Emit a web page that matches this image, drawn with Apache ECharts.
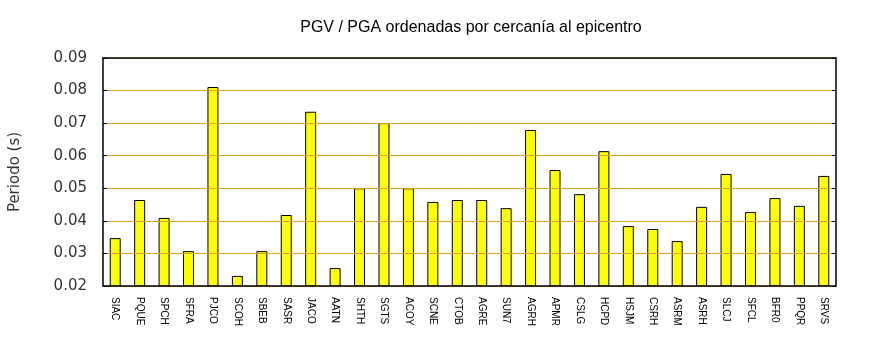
<!DOCTYPE html>
<html>
<head>
<meta charset="utf-8">
<script src="https://cdn.jsdelivr.net/npm/echarts@6/dist/echarts.min.js"></script>
<style>
  html, body { margin: 0; padding: 0; background: #fff; }
  #chart { width: 870px; height: 350px; }
</style>
</head>
<body>
<div id="chart"></div>
<script>
// Stations ordered by distance to the epicentre
const stations = ['SIAC','PQUE','SPCH','SFRA','PJCO','SCOH','SBEB','SASR','JACO','AATN',
  'SHTH','SGTS','ACOY','SCNE','CTOB','AGRE','SUN7','AGRH','APMR','CSLG',
  'HCPD','HSJM','CSRH','ASRM','ASRH','SLCJ','SFCL','BFR0','PPQR','SRVS'];

// PGV / PGA ratio (s)
const ratios = [0.0347, 0.0464, 0.0409, 0.0307, 0.0811, 0.0231, 0.0307, 0.0418, 0.0735, 0.0255,
  0.0500, 0.0700, 0.0500, 0.0458, 0.0464, 0.0464, 0.0439, 0.0679, 0.0556, 0.0482,
  0.0614, 0.0384, 0.0375, 0.0338, 0.0443, 0.0544, 0.0427, 0.0470, 0.0446, 0.0538];

const yMin = 0.02, yMax = 0.09, yStep = 0.01;

const chart = echarts.init(document.getElementById('chart'), null, { renderer: 'canvas' });

chart.setOption({
  animation: false,
  backgroundColor: '#ffffff',
  title: {
    text: 'PGV / PGA ordenadas por cercanía al epicentro',
    left: 466,
    textAlign: 'center',
    top: 15,
    textStyle: { fontFamily: 'Liberation Sans', fontSize: 16, fontWeight: 'normal', color: '#000' }
  },
  grid: { left: 101, right: 34, top: 58, height: 228, containLabel: false },
  xAxis: [
    {
      type: 'category',
      data: stations,
      z: 5,
      boundaryGap: true,
      axisLine: { show: true, lineStyle: { color: '#000', width: 1.5 } },
      axisTick: { show: false },
      axisLabel: {
        rotate: -90,
        interval: 0,
        margin: 11,
        fontFamily: 'Liberation Sans',
        fontSize: 10,
        color: '#000'
      },
      splitLine: { show: false }
    },
    {
      type: 'category',
      data: stations,
      position: 'top',
      z: 5,
      axisLine: { show: true, lineStyle: { color: '#000', width: 1.5 } },
      axisTick: { show: false },
      axisLabel: { show: false },
      splitLine: { show: false }
    }
  ],
  yAxis: [
    {
      type: 'value',
      min: yMin,
      max: yMax,
      interval: yStep,
      z: 4,
      name: 'Periodo (s)',
      nameLocation: 'middle',
      nameGap: 80,
      nameRotate: 90,
      nameTextStyle: { fontFamily: '"DejaVu Sans"', fontSize: 15, color: '#333' },
      axisLine: { show: true, lineStyle: { color: '#000', width: 1.5 } },
      axisTick: { show: true, inside: true, length: 4, lineStyle: { color: '#000', width: 1 } },
      axisLabel: {
        margin: 16,
        fontFamily: '"DejaVu Sans"',
        fontSize: 15,
        color: '#333',
        formatter: v => v.toFixed(2)
      },
      splitLine: { show: true, lineStyle: { color: '#d9a520', width: 1 } }
    },
    {
      type: 'value',
      min: yMin,
      max: yMax,
      interval: yStep,
      position: 'right',
      z: 4,
      axisLine: { show: true, lineStyle: { color: '#000', width: 1.5 } },
      axisTick: { show: true, inside: true, length: 4, lineStyle: { color: '#000', width: 1 } },
      axisLabel: { show: false },
      splitLine: { show: false }
    }
  ],
  series: [
    {
      type: 'bar',
      data: ratios,
      xAxisIndex: 0,
      yAxisIndex: 0,
      barWidth: '45%',
      itemStyle: { color: '#ffff00', borderColor: '#000', borderWidth: 1 }
    }
  ]
});
</script>
</body>
</html>
